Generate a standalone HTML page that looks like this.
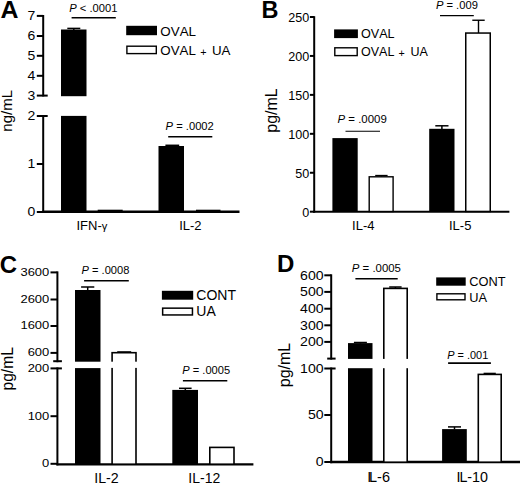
<!DOCTYPE html>
<html><head><meta charset="utf-8"><style>
html,body{margin:0;padding:0;background:#fff;}
svg{display:block;}
text{font-family:"Liberation Sans", sans-serif;fill:#000;font-kerning:none;}
</style></head><body>
<svg width="520" height="484" viewBox="0 0 520 484" shape-rendering="auto">
<rect x="0" y="0" width="520" height="484" fill="#fff"/>
<text transform="translate(0.4,17.6) scale(1.06,1)" x="0" y="0" font-size="23.5" text-anchor="start" font-weight="bold" >A</text>
<line x1="43.2" y1="15" x2="43.2" y2="96.5" stroke="#000" stroke-width="2"/>
<line x1="43.2" y1="115" x2="43.2" y2="213" stroke="#000" stroke-width="2"/>
<line x1="36.8" y1="15.9" x2="43.2" y2="15.9" stroke="#000" stroke-width="2"/>
<text transform="translate(35.4,19.9) scale(1.12,1)" x="0" y="0" font-size="12.5" text-anchor="end" font-weight="normal" >7</text>
<line x1="36.8" y1="36" x2="43.2" y2="36" stroke="#000" stroke-width="2"/>
<text transform="translate(35.4,40.0) scale(1.12,1)" x="0" y="0" font-size="12.5" text-anchor="end" font-weight="normal" >6</text>
<line x1="36.8" y1="55.8" x2="43.2" y2="55.8" stroke="#000" stroke-width="2"/>
<text transform="translate(35.4,59.8) scale(1.12,1)" x="0" y="0" font-size="12.5" text-anchor="end" font-weight="normal" >5</text>
<line x1="36.8" y1="75.8" x2="43.2" y2="75.8" stroke="#000" stroke-width="2"/>
<text transform="translate(35.4,79.8) scale(1.12,1)" x="0" y="0" font-size="12.5" text-anchor="end" font-weight="normal" >4</text>
<line x1="36.8" y1="95.6" x2="43.2" y2="95.6" stroke="#000" stroke-width="2"/>
<text transform="translate(35.4,99.6) scale(1.12,1)" x="0" y="0" font-size="12.5" text-anchor="end" font-weight="normal" >3</text>
<line x1="43.2" y1="95.6" x2="47.7" y2="95.6" stroke="#000" stroke-width="2"/>
<line x1="36.8" y1="116" x2="43.2" y2="116" stroke="#000" stroke-width="2"/>
<text transform="translate(35.4,120.0) scale(1.12,1)" x="0" y="0" font-size="12.5" text-anchor="end" font-weight="normal" >2</text>
<line x1="36.8" y1="164" x2="43.2" y2="164" stroke="#000" stroke-width="2"/>
<text transform="translate(35.4,168.0) scale(1.12,1)" x="0" y="0" font-size="12.5" text-anchor="end" font-weight="normal" >1</text>
<line x1="36.8" y1="212" x2="43.2" y2="212" stroke="#000" stroke-width="2"/>
<text transform="translate(35.4,216.0) scale(1.12,1)" x="0" y="0" font-size="12.5" text-anchor="end" font-weight="normal" >0</text>
<line x1="43.2" y1="116" x2="47.7" y2="116" stroke="#000" stroke-width="2"/>
<line x1="42.2" y1="211.8" x2="239.5" y2="211.8" stroke="#000" stroke-width="2.5"/>
<line x1="73.8" y1="28.4" x2="73.8" y2="30" stroke="#000" stroke-width="1.5"/>
<line x1="67.3" y1="28.4" x2="80.3" y2="28.4" stroke="#000" stroke-width="1.5"/>
<rect x="61" y="29.5" width="25.5" height="66.7" fill="#000"/>
<rect x="61" y="115.9" width="25.5" height="96.1" fill="#000"/>
<rect x="97.7" y="209.7" width="25.0" height="2.3" fill="#000"/>
<line x1="172.3" y1="145.3" x2="172.3" y2="146.5" stroke="#000" stroke-width="1.5"/>
<line x1="165.4" y1="145.3" x2="179.20000000000002" y2="145.3" stroke="#000" stroke-width="1.5"/>
<rect x="158.5" y="146" width="25.5" height="66" fill="#000"/>
<rect x="196" y="209.7" width="24.5" height="2.3" fill="#000"/>
<text x="69.3" y="12" font-size="11.2" text-anchor="start" font-weight="normal" ><tspan font-style="italic">P</tspan> &lt; .0001</text>
<line x1="71.6" y1="17.7" x2="115.8" y2="17.7" stroke="#000" stroke-width="1.6"/>
<text x="165.6" y="129.9" font-size="11.2" text-anchor="start" font-weight="normal" ><tspan font-style="italic">P</tspan> = .0002</text>
<line x1="168.2" y1="136.8" x2="212.3" y2="136.8" stroke="#000" stroke-width="1.6"/>
<rect x="126.2" y="25.8" width="30.8" height="9.4" fill="#000"/>
<rect x="126.9" y="46.2" width="29.4" height="7.4" fill="#fff" stroke="#000" stroke-width="1.4"/>
<text transform="translate(160.3,35.7) scale(1.03,1)" x="0" y="0" font-size="13" text-anchor="start" font-weight="normal" >OVAL</text>
<text transform="translate(160.3,54.6) scale(1.025,1)" x="0" y="0" font-size="13" text-anchor="start" font-weight="normal" >OVAL <tspan font-size="10.5" dy="1.3" dx="0.6">+</tspan><tspan dy="-1.3" dx="1.8"> UA</tspan></text>
<text x="76.5" y="229.7" font-size="13" text-anchor="start" font-weight="normal" >IFN-<tspan font-size="11.2" dy="0.6">&#947;</tspan></text>
<text x="179.2" y="230" font-size="13" text-anchor="start" font-weight="normal" >IL-2</text>
<text transform="translate(11.9,110.8) rotate(-90)" x="0" y="0" font-size="15" text-anchor="middle">ng/mL</text>
<text x="261.4" y="18" font-size="23.5" text-anchor="start" font-weight="bold" >B</text>
<line x1="314.2" y1="16.2" x2="314.2" y2="212.7" stroke="#000" stroke-width="2"/>
<line x1="309.9" y1="16.99999999999997" x2="314.2" y2="16.99999999999997" stroke="#000" stroke-width="2"/>
<text transform="translate(309.2,22.099999999999973) scale(1.05,1)" x="0" y="0" font-size="12" text-anchor="end" font-weight="normal" >250</text>
<line x1="309.9" y1="55.93999999999997" x2="314.2" y2="55.93999999999997" stroke="#000" stroke-width="2"/>
<text transform="translate(309.2,61.03999999999997) scale(1.05,1)" x="0" y="0" font-size="12" text-anchor="end" font-weight="normal" >200</text>
<line x1="309.9" y1="94.87999999999998" x2="314.2" y2="94.87999999999998" stroke="#000" stroke-width="2"/>
<text transform="translate(309.2,99.97999999999998) scale(1.05,1)" x="0" y="0" font-size="12" text-anchor="end" font-weight="normal" >150</text>
<line x1="309.9" y1="133.82" x2="314.2" y2="133.82" stroke="#000" stroke-width="2"/>
<text transform="translate(309.2,138.92) scale(1.05,1)" x="0" y="0" font-size="12" text-anchor="end" font-weight="normal" >100</text>
<line x1="309.9" y1="172.76" x2="314.2" y2="172.76" stroke="#000" stroke-width="2"/>
<text transform="translate(309.2,177.85999999999999) scale(1.05,1)" x="0" y="0" font-size="12" text-anchor="end" font-weight="normal" >50</text>
<line x1="309.9" y1="211.7" x2="314.2" y2="211.7" stroke="#000" stroke-width="2"/>
<text transform="translate(309.2,216.79999999999998) scale(1.05,1)" x="0" y="0" font-size="12" text-anchor="end" font-weight="normal" >0</text>
<line x1="313.2" y1="211.7" x2="509.4" y2="211.7" stroke="#000" stroke-width="2"/>
<rect x="332.4" y="138.1" width="25.3" height="73.6" fill="#000"/>
<line x1="381.4" y1="175.5" x2="381.4" y2="176.5" stroke="#000" stroke-width="1.3"/>
<line x1="375.2" y1="175.5" x2="387.59999999999997" y2="175.5" stroke="#000" stroke-width="1.3"/>
<rect x="369.2" y="176.79999999999998" width="23.9" height="34.7" fill="#fff" stroke="#000" stroke-width="1.4"/>
<line x1="441.9" y1="125.8" x2="441.9" y2="129" stroke="#000" stroke-width="1.5"/>
<line x1="435.29999999999995" y1="125.8" x2="448.5" y2="125.8" stroke="#000" stroke-width="1.5"/>
<rect x="429.2" y="128.8" width="25.3" height="82.9" fill="#000"/>
<line x1="478.5" y1="20.25" x2="478.5" y2="33" stroke="#000" stroke-width="1.4"/>
<line x1="472.3" y1="20.25" x2="484.7" y2="20.25" stroke="#000" stroke-width="1.4"/>
<rect x="465.75" y="33.05" width="24.5" height="178.4" fill="#fff" stroke="#000" stroke-width="1.5"/>
<text transform="translate(337.5,122.7) scale(1.04,1)" x="0" y="0" font-size="11" text-anchor="start" font-weight="normal" ><tspan font-style="italic">P</tspan> = .0009</text>
<line x1="345.5" y1="131.2" x2="380" y2="131.2" stroke="#000" stroke-width="1.15"/>
<text x="435.9" y="8.5" font-size="11.2" text-anchor="start" font-weight="normal" ><tspan font-style="italic">P</tspan> = .009</text>
<line x1="440" y1="15.6" x2="473.8" y2="15.6" stroke="#000" stroke-width="1.2"/>
<rect x="334.1" y="29.4" width="23.8" height="8.7" fill="#000"/>
<rect x="334.8" y="47.800000000000004" width="22.4" height="7.8" fill="#fff" stroke="#000" stroke-width="1.4"/>
<text x="361" y="37.9" font-size="12.6" text-anchor="start" font-weight="normal" >OVAL</text>
<text transform="translate(361,55.9) scale(0.995,1)" x="0" y="0" font-size="12.6" text-anchor="start" font-weight="normal" >OVAL <tspan font-size="10.8" dy="1.0" dx="0.6">+</tspan><tspan dy="-1.0" dx="2.2"> UA</tspan></text>
<text x="352.1" y="230" font-size="13" text-anchor="start" font-weight="normal" >IL-4</text>
<text x="449" y="230" font-size="13" text-anchor="start" font-weight="normal" >IL-5</text>
<text transform="translate(276.6,110.5) rotate(-90)" x="0" y="0" font-size="16" text-anchor="middle">pg/mL</text>
<text x="-0.3" y="272.6" font-size="24" text-anchor="start" font-weight="bold" >C</text>
<line x1="57.4" y1="271.4" x2="57.4" y2="362.2" stroke="#000" stroke-width="2"/>
<line x1="57.4" y1="367.4" x2="57.4" y2="465.4" stroke="#000" stroke-width="2"/>
<line x1="50.5" y1="272.4" x2="57.4" y2="272.4" stroke="#000" stroke-width="2"/>
<text transform="translate(49.3,275.79999999999995) scale(1.1,1)" x="0" y="0" font-size="11.8" text-anchor="end" font-weight="normal" >3600</text>
<line x1="50.5" y1="299.5" x2="57.4" y2="299.5" stroke="#000" stroke-width="2"/>
<text transform="translate(49.3,302.9) scale(1.1,1)" x="0" y="0" font-size="11.8" text-anchor="end" font-weight="normal" >2600</text>
<line x1="50.5" y1="326" x2="57.4" y2="326" stroke="#000" stroke-width="2"/>
<text transform="translate(49.3,329.4) scale(1.1,1)" x="0" y="0" font-size="11.8" text-anchor="end" font-weight="normal" >1600</text>
<line x1="50.5" y1="352.9" x2="57.4" y2="352.9" stroke="#000" stroke-width="2"/>
<text transform="translate(49.3,356.29999999999995) scale(1.1,1)" x="0" y="0" font-size="11.8" text-anchor="end" font-weight="normal" >600</text>
<line x1="53.2" y1="361.2" x2="61.9" y2="361.2" stroke="#000" stroke-width="2"/>
<line x1="50.5" y1="368.4" x2="57.4" y2="368.4" stroke="#000" stroke-width="2"/>
<text transform="translate(49.3,371.79999999999995) scale(1.1,1)" x="0" y="0" font-size="11.8" text-anchor="end" font-weight="normal" >200</text>
<line x1="50.5" y1="416.2" x2="57.4" y2="416.2" stroke="#000" stroke-width="2"/>
<text transform="translate(49.3,419.59999999999997) scale(1.1,1)" x="0" y="0" font-size="11.8" text-anchor="end" font-weight="normal" >100</text>
<line x1="50.5" y1="463.8" x2="57.4" y2="463.8" stroke="#000" stroke-width="2"/>
<text transform="translate(49.3,467.2) scale(1.1,1)" x="0" y="0" font-size="11.8" text-anchor="end" font-weight="normal" >0</text>
<line x1="57.4" y1="368.4" x2="61.9" y2="368.4" stroke="#000" stroke-width="2"/>
<line x1="56.4" y1="464.3" x2="253.4" y2="464.3" stroke="#000" stroke-width="2.2"/>
<line x1="87.7" y1="287" x2="87.7" y2="290.5" stroke="#000" stroke-width="1.5"/>
<line x1="81.10000000000001" y1="287" x2="94.3" y2="287" stroke="#000" stroke-width="1.5"/>
<rect x="75" y="290" width="25.5" height="71.7" fill="#000"/>
<rect x="75" y="368.1" width="25.5" height="96.2" fill="#000"/>
<rect x="112.1" y="352.7" width="23.9" height="111.5" fill="#fff" stroke="#000" stroke-width="1.6"/>
<line x1="117.2" y1="351.9" x2="131.2" y2="351.9" stroke="#000" stroke-width="1.4"/>
<rect x="109" y="361.7" width="30" height="6.2" fill="#fff"/>
<line x1="185.3" y1="388.3" x2="185.3" y2="390" stroke="#000" stroke-width="1.5"/>
<line x1="179.0" y1="388.3" x2="191.60000000000002" y2="388.3" stroke="#000" stroke-width="1.5"/>
<rect x="172.3" y="389.9" width="25.7" height="74.4" fill="#000"/>
<rect x="209.8" y="447.40000000000003" width="24.2" height="16.8" fill="#fff" stroke="#000" stroke-width="1.6"/>
<text x="81.5" y="274.4" font-size="11.1" text-anchor="start" font-weight="normal" ><tspan font-style="italic">P</tspan> = .0008</text>
<line x1="84.1" y1="280.8" x2="128.8" y2="280.8" stroke="#000" stroke-width="1.6"/>
<text x="182.3" y="374.4" font-size="11.1" text-anchor="start" font-weight="normal" ><tspan font-style="italic">P</tspan> = .0005</text>
<line x1="182.9" y1="380.7" x2="227.3" y2="380.7" stroke="#000" stroke-width="1.6"/>
<rect x="161.9" y="290.8" width="31.3" height="8.9" fill="#000"/>
<rect x="162.65" y="308.15" width="29.8" height="6.8" fill="#fff" stroke="#000" stroke-width="1.5"/>
<text x="196.3" y="300.2" font-size="14" text-anchor="start" font-weight="normal" >CONT</text>
<text x="196.3" y="316.3" font-size="14" text-anchor="start" font-weight="normal" >UA</text>
<text x="94.2" y="482.8" font-size="14.2" text-anchor="start" font-weight="normal" >IL-2</text>
<text x="188.3" y="482.8" font-size="14.0" text-anchor="start" font-weight="normal" >IL-12</text>
<text transform="translate(12.5,368.8) rotate(-90)" x="0" y="0" font-size="15.6" text-anchor="middle">pg/mL</text>
<text x="277.1" y="272.2" font-size="24" text-anchor="start" font-weight="bold" >D</text>
<line x1="331.2" y1="274.3" x2="331.2" y2="359.6" stroke="#000" stroke-width="2"/>
<line x1="331.2" y1="367.5" x2="331.2" y2="463.2" stroke="#000" stroke-width="2"/>
<line x1="324.3" y1="275.3" x2="331.2" y2="275.3" stroke="#000" stroke-width="2"/>
<text transform="translate(323.6,279.7) scale(1.13,1)" x="0" y="0" font-size="12.5" text-anchor="end" font-weight="normal" >600</text>
<line x1="324.3" y1="291.9" x2="331.2" y2="291.9" stroke="#000" stroke-width="2"/>
<text transform="translate(323.6,296.29999999999995) scale(1.13,1)" x="0" y="0" font-size="12.5" text-anchor="end" font-weight="normal" >500</text>
<line x1="324.3" y1="308.7" x2="331.2" y2="308.7" stroke="#000" stroke-width="2"/>
<text transform="translate(323.6,313.09999999999997) scale(1.13,1)" x="0" y="0" font-size="12.5" text-anchor="end" font-weight="normal" >400</text>
<line x1="324.3" y1="325.3" x2="331.2" y2="325.3" stroke="#000" stroke-width="2"/>
<text transform="translate(323.6,329.7) scale(1.13,1)" x="0" y="0" font-size="12.5" text-anchor="end" font-weight="normal" >300</text>
<line x1="324.3" y1="341.9" x2="331.2" y2="341.9" stroke="#000" stroke-width="2"/>
<text transform="translate(323.6,346.29999999999995) scale(1.13,1)" x="0" y="0" font-size="12.5" text-anchor="end" font-weight="normal" >200</text>
<line x1="327.2" y1="358.6" x2="335.6" y2="358.6" stroke="#000" stroke-width="2"/>
<line x1="324.3" y1="368.5" x2="331.2" y2="368.5" stroke="#000" stroke-width="2"/>
<text transform="translate(323.6,372.9) scale(1.13,1)" x="0" y="0" font-size="12.5" text-anchor="end" font-weight="normal" >100</text>
<line x1="324.3" y1="415" x2="331.2" y2="415" stroke="#000" stroke-width="2"/>
<text transform="translate(323.6,419.4) scale(1.13,1)" x="0" y="0" font-size="12.5" text-anchor="end" font-weight="normal" >50</text>
<line x1="324.3" y1="462" x2="331.2" y2="462" stroke="#000" stroke-width="2"/>
<text transform="translate(323.6,466.4) scale(1.13,1)" x="0" y="0" font-size="12.5" text-anchor="end" font-weight="normal" >0</text>
<line x1="331.2" y1="368.5" x2="335.6" y2="368.5" stroke="#000" stroke-width="2"/>
<line x1="330.2" y1="462.0" x2="520" y2="462.0" stroke="#000" stroke-width="2.4"/>
<line x1="360.4" y1="342.5" x2="360.4" y2="343.5" stroke="#000" stroke-width="1.5"/>
<line x1="353.9" y1="342.5" x2="366.9" y2="342.5" stroke="#000" stroke-width="1.5"/>
<rect x="348" y="343.1" width="24.5" height="15.8" fill="#000"/>
<rect x="348" y="368.2" width="24.5" height="94.0" fill="#000"/>
<line x1="395.4" y1="287" x2="395.4" y2="288.5" stroke="#000" stroke-width="1.5"/>
<line x1="389.2" y1="287" x2="401.59999999999997" y2="287" stroke="#000" stroke-width="1.5"/>
<rect x="383.8" y="288.40000000000003" width="23.4" height="173.8" fill="#fff" stroke="#000" stroke-width="1.6"/>
<rect x="381" y="358.9" width="29" height="9.3" fill="#fff"/>
<line x1="454.5" y1="426.9" x2="454.5" y2="429.5" stroke="#000" stroke-width="1.5"/>
<line x1="448.0" y1="426.9" x2="461.0" y2="426.9" stroke="#000" stroke-width="1.5"/>
<rect x="442.1" y="429.1" width="24.7" height="33.1" fill="#000"/>
<rect x="478.3" y="374.40000000000003" width="22.9" height="87.8" fill="#fff" stroke="#000" stroke-width="1.6"/>
<line x1="483.6" y1="373.5" x2="495.8" y2="373.5" stroke="#000" stroke-width="1.6"/>
<text transform="translate(351.8,271.6) scale(1.12,1)" x="0" y="0" font-size="10.2" text-anchor="start" font-weight="normal" ><tspan font-style="italic">P</tspan> = .0005</text>
<line x1="355.4" y1="278.8" x2="397.7" y2="278.8" stroke="#000" stroke-width="1.6"/>
<text transform="translate(447.3,358.6) scale(1.07,1)" x="0" y="0" font-size="10.2" text-anchor="start" font-weight="normal" ><tspan font-style="italic">P</tspan> = .001</text>
<line x1="448.1" y1="363.1" x2="490.9" y2="363.1" stroke="#000" stroke-width="1.6"/>
<rect x="436.2" y="277.4" width="29.5" height="8.3" fill="#000"/>
<rect x="436.9" y="293.8" width="28.1" height="6.0" fill="#fff" stroke="#000" stroke-width="1.4"/>
<text x="469.3" y="285.8" font-size="12.8" text-anchor="start" font-weight="normal" >CONT</text>
<text x="469.3" y="301.8" font-size="12.8" text-anchor="start" font-weight="normal" >UA</text>
<text x="367.2" y="481.7" font-size="14.5" text-anchor="start" font-weight="normal" >I<tspan dx="-2.2">L-6</tspan></text>
<text x="456.4" y="481.7" font-size="14.3" text-anchor="start" font-weight="normal" >I<tspan dx="-1">L-10</tspan></text>
<text transform="translate(290.0,365) rotate(-90)" x="0" y="0" font-size="16" text-anchor="middle">pg/mL</text>
</svg></body></html>
